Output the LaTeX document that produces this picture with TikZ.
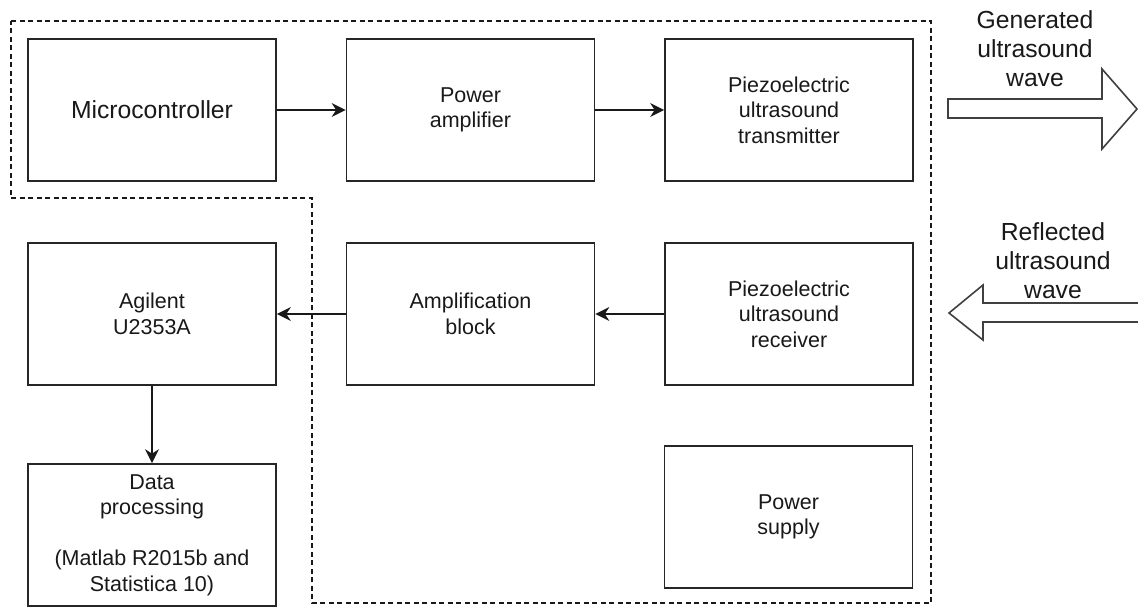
\documentclass[tikz,border=0pt]{standalone}
\usepackage{fontspec}
\setmainfont{Liberation Sans}
\usetikzlibrary{arrows.meta}
\begin{document}
\begin{tikzpicture}[x=1pt,y=-1pt,
  block/.style={draw=black!85, line width=1.7pt, fill=white,
    minimum width=248pt, minimum height=142pt, inner sep=0pt,
    align=center, text=black!90, font=\fontsize{21.5}{25.5}\selectfont},
  bigblock/.style={block, font=\fontsize{24.7}{29}\selectfont},
  flow/.style={draw=black!90, line width=1.5pt,
    -{Stealth[length=14pt,width=14pt,inset=4.5pt]}},
  boundary/.style={draw=black!90, line width=1.3pt, dash pattern=on 5pt off 3.5pt},
  wavearrow/.style={draw=black!75, line width=1.6pt, fill=white, line join=miter},
  wavelabel/.style={align=center, text=black!90, font=\fontsize{24.7}{29}\selectfont, inner sep=0pt}
]
\useasboundingbox (0,0) rectangle (1138,606);

% dashed outline of the sensor unit
\draw[boundary] (11,21) -- (931,21) -- (931,603) -- (312,603) -- (312,198) -- (11,198) -- cycle;

% blocks
\node[bigblock] (mcu)  at (152,110)   {Microcontroller};
\node[block]    (pamp) at (470.5,110) {Power\\amplifier};
\node[block]    (tx)   at (789,110)   {Piezoelectric\\ultrasound\\transmitter};
\node[block]    (agi)  at (152,314)   {Agilent\\U2353A};
\node[block]    (amp)  at (470.5,314) {Amplification\\block};
\node[block]    (rx)   at (789,314)   {Piezoelectric\\ultrasound\\receiver};
\node[block]    (dp)   at (152,535)   {Data\\processing\\\mbox{}\\(Matlab R2015b and\\Statistica 10)};
\node[block]    (ps)   at (788.5,517) {Power\\supply};

% signal flow
\draw[flow] (mcu) -- (pamp);
\draw[flow] (pamp) -- (tx);
\draw[flow] (rx) -- (amp);
\draw[flow] (amp) -- (agi);
\draw[flow] (agi) -- (dp);

% outgoing ultrasound wave
\draw[wavearrow] (948,99) -- (1102,99) -- (1102,69) -- (1137,109) -- (1102,149)
  -- (1102,118) -- (948,118) -- cycle;
\node[wavelabel] (gen) at (1035,49) {Generated\\ultrasound\\wave};

% returning ultrasound wave
\draw[wavearrow] (1138,303) -- (983,303) -- (983,285) -- (949,313) -- (983,340)
  -- (983,322) -- (1138,322);
\node[wavelabel] (refl) at (1053,261) {Reflected\\ultrasound\\wave};
\end{tikzpicture}
\end{document}
